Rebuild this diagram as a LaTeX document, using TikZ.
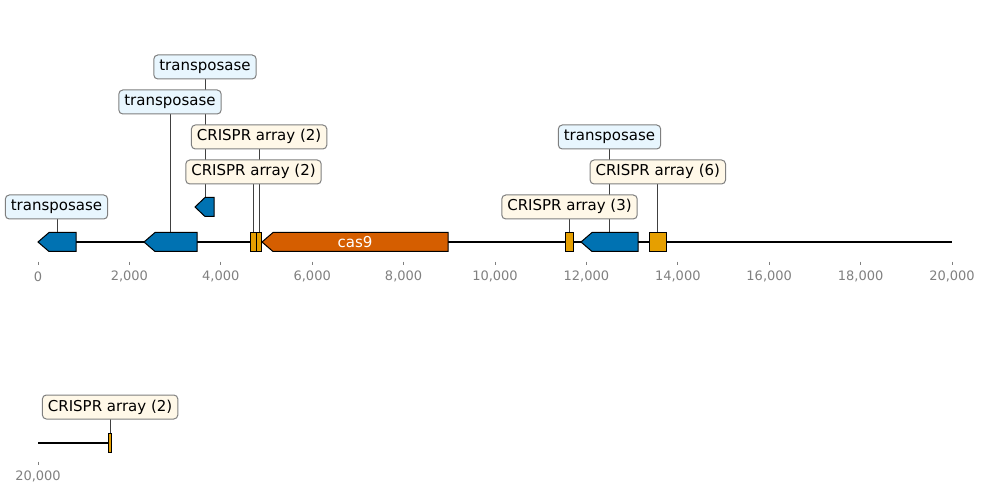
\documentclass[tikz,border=0pt]{standalone}
\usepackage{fontspec}
\setmainfont{DejaVu Sans}
\usetikzlibrary{backgrounds}
\definecolor{tblue}{HTML}{0072B2}
\definecolor{torange}{HTML}{D55E00}
\definecolor{tyellow}{HTML}{E69F00}
\definecolor{lblue}{HTML}{E8F6FE}
\definecolor{lcream}{HTML}{FFF8E8}
\definecolor{boxgray}{HTML}{7F7F7F}
\definecolor{tickgray}{HTML}{808080}
% left-pointing gene: tip x, body start x, right x, center y, colour
\newcommand\lgene[5]{%
  \filldraw[feat, fill=#5] (#1,#4) -- (#2,#4-9.5) -- (#3,#4-9.5) -- (#3,#4+9.5) -- (#2,#4+9.5) -- cycle;}
% box feature: left x, right x, center y, colour
\newcommand\bgene[4]{%
  \filldraw[feat, fill=#4] (#1,#3-9.5) rectangle (#2,#3+9.5);}
\begin{document}
\begin{tikzpicture}[x=1pt,y=-1pt,
  lab/.style={draw=boxgray, rounded corners=4pt, line width=1pt, inner xsep=5.5pt,
    inner ysep=0pt, minimum height=24pt, text height=11pt, text depth=3pt,
    font=\fontsize{15}{17}\selectfont},
  tlab/.style={lab, fill=lblue},
  clab/.style={lab, fill=lcream},
  feat/.style={draw=black, line width=1pt},
  conn/.style={draw=black!75, line width=0.8pt},
  tickmark/.style={draw=tickgray, line width=0.8pt},
  ticklab/.style={text=tickgray, font=\fontsize{13}{15}\selectfont, inner sep=0pt},
  baseline/.style={line width=1.5pt}
]
\useasboundingbox (0,0) rectangle (987,494);

% ---- first row ----
\coordinate (b0) at (38,242);
\coordinate (b1) at (952,242);
\draw[baseline] (b0) -- (b1);

\lgene{38}{49}{76}{242}{tblue}
\lgene{144}{155}{197}{242}{tblue}
\lgene{195}{205}{214}{207}{tblue}
\bgene{250.7}{256.2}{242}{tyellow}
\bgene{256.4}{261.8}{242}{tyellow}
\filldraw[feat, fill=torange] (262,242) -- (273,232.5) -- (448,232.5) -- (448,251.5) -- (273,251.5) -- cycle;
\node[text=white, font=\fontsize{15}{17}\selectfont] (cas9) at (355,242) {cas9};
\bgene{565.7}{573.3}{242}{tyellow}
\lgene{581}{592}{638}{242}{tblue}
\bgene{649.5}{666}{242}{tyellow}

\coordinate (f1) at (57,232.5);
\coordinate (f2) at (170,232.5);
\coordinate (f3) at (205,197.5);
\coordinate (f4) at (259.1,232.5);
\coordinate (f5) at (253.5,232.5);
\coordinate (f6) at (569.5,232.5);
\coordinate (f7) at (609.5,232.5);
\coordinate (f8) at (657.8,232.5);

\node[tlab] (l1) at (56.5,207) {transposase};
\node[tlab] (l2) at (170,102) {transposase};
\node[tlab] (l3) at (205,67) {transposase};
\node[clab] (l4) at (259.1,137) {CRISPR array (2)};
\node[clab] (l5) at (253.5,172) {CRISPR array (2)};
\node[clab] (l6) at (569.5,207) {CRISPR array (3)};
\node[tlab] (l7) at (609.5,137) {transposase};
\node[clab] (l8) at (657.8,172) {CRISPR array (6)};

\begin{scope}[on background layer]
  \foreach \i in {1,...,8} \draw[conn] (f\i) -- (f\i |- l\i.center);
\end{scope}

\foreach \k/\t in {0/0,1/{2,000},2/{4,000},3/{6,000},4/{8,000},5/{10,000},6/{12,000},7/{14,000},8/{16,000},9/{18,000},10/{20,000}} {
  \coordinate (tk\k) at ({38+91.4*\k},261.5);
  \draw[tickmark] (tk\k) -- ++(0,3.5);
  \node[ticklab] (tl\k) at ({38+91.4*\k},276.5) {\t};
}

% ---- second row ----
\coordinate (c0) at (38,443);
\coordinate (c1) at (112,443);
\draw[baseline] (c0) -- (c1);
\bgene{108.6}{111.6}{443}{tyellow}
\coordinate (f9) at (110.1,433.5);
\node[clab] (l9) at (110.1,407) {CRISPR array (2)};
\begin{scope}[on background layer]
  \draw[conn] (f9) -- (f9 |- l9.center);
\end{scope}
\coordinate (tk20) at (38,461.5);
\draw[tickmark] (tk20) -- ++(0,3.5);
\node[ticklab] (tl20) at (38,476.5) {20,000};
\end{tikzpicture}
\end{document}
